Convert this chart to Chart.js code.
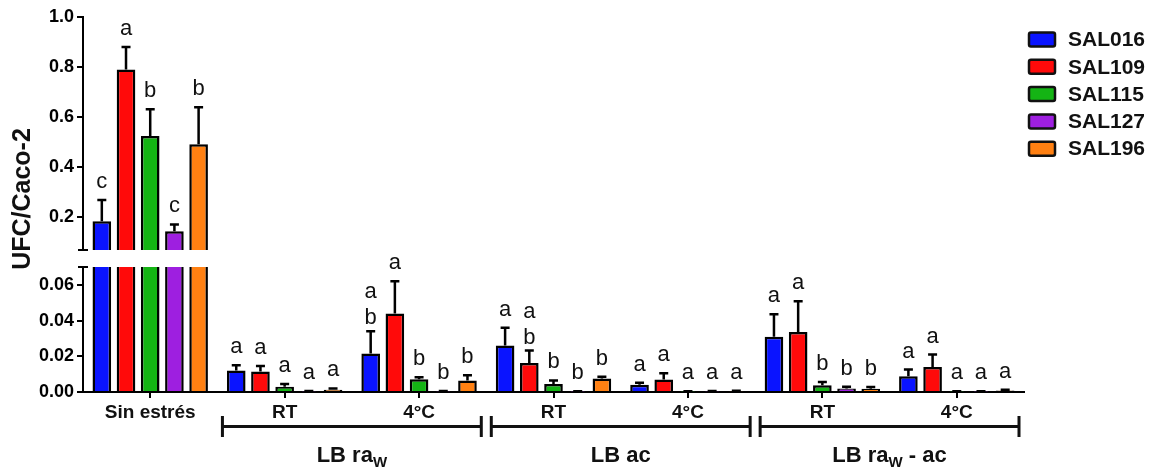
<!DOCTYPE html>
<html>
<head>
<meta charset="utf-8">
<script src="https://cdn.jsdelivr.net/npm/chart.js@4.4.1/dist/chart.umd.min.js"></script>
<style>
  html, body { margin: 0; padding: 0; background: #fff; }
  #wrap { position: relative; width: 1157px; height: 467px; }
  #wrap canvas { position: absolute; left: 0; top: 0; }
</style>
</head>
<body>
<div id="wrap">
  <canvas id="bottomChart" width="1157" height="467"></canvas>
  <canvas id="topChart" width="1157" height="467"></canvas>
</div>
<script>
// ===============================
// Data
// ===============================
const categories = ["Sin estrés", "RT", "4°C", "RT", "4°C", "RT", "4°C"];
const seriesNames = ["SAL016", "SAL109", "SAL115", "SAL127", "SAL196"];
const seriesColors = ["#0a14ff", "#ff0a0a", "#14b414", "#9e1fe0", "#ff8012"];

const sal016 = [0.185, 0.012, 0.0215, 0.026, 0.004, 0.031, 0.0088];
const sal109 = [0.79, 0.0115, 0.044, 0.0162, 0.007, 0.0336, 0.014];
const sal115 = [0.525, 0.003, 0.0072, 0.0045, 0.0002, 0.0038, 0.0002];
const sal127 = [0.145, 0.0003, 0.0003, 0.0002, 0.0003, 0.002, 0.0002];
const sal196 = [0.492, 0.0012, 0.0064, 0.0075, 0.0004, 0.0018, 0.0008];

const err016 = [0.085, 0.003, 0.0125, 0.010, 0.0012, 0.0125, 0.0038];
const err109 = [0.09, 0.003, 0.018, 0.007, 0.0035, 0.0172, 0.007];
const err115 = [0.107, 0.0015, 0.001, 0.002, 0.0002, 0.0018, 0.0002];
const err127 = [0.027, 0.0003, 0.0003, 0.0002, 0.0002, 0.001, 0.0002];
const err196 = [0.148, 0.0008, 0.003, 0.001, 0.0003, 0.001, 0.0005];

const letters016 = ["c", "a", "a\nb", "a", "a", "a", "a"];
const letters109 = ["a", "a", "a", "a\nb", "a", "a", "a"];
const letters115 = ["b", "a", "b", "b", "a", "b", "a"];
const letters127 = ["c", "a", "b", "b", "a", "b", "a"];
const letters196 = ["b", "a", "b", "b", "a", "b", "a"];

const topTicks = [0.2, 0.4, 0.6, 0.8, 1.0];
const bottomTicks = [0, 0.02, 0.04, 0.06];
const breakValue = 0.07;

// group brackets under the x axis: [first category, last category, text, subscript, tail]
const groups = [
  [1, 2, "LB ra", "W", ""],
  [3, 4, "LB ac", "", ""],
  [5, 6, "LB ra", "W", " - ac"],
];

const yTitle = "UFC/Caco-2";

const values = [sal016, sal109, sal115, sal127, sal196];
const errors = [err016, err109, err115, err127, err196];
const letters = [letters016, letters109, letters115, letters127, letters196];

const FONT = "'Liberation Sans', Arial, sans-serif";

// ===============================
// Helpers
// ===============================
function makeDatasets() {
  return seriesNames.map((name, i) => ({
    label: name,
    data: values[i],
    errors: errors[i],
    letters: letters[i],
    backgroundColor: seriesColors[i],
    borderColor: "#000",
    borderWidth: 2.5,
    borderSkipped: "start",
    categoryPercentage: 0.9,
    barPercentage: 0.77,
  }));
}

function yAxis(min, max, tickValues) {
  return {
    min: min,
    max: max,
    afterFit: (scale) => { scale.width = 83; },
    afterBuildTicks: (scale) => {
      scale.ticks = tickValues.map((v) => ({ value: v }));
    },
    border: { color: "#000", width: 2 },
    grid: { drawOnChartArea: false, color: "#000", lineWidth: 2, tickLength: 6 },
    ticks: {
      color: "#000",
      padding: 3,
      font: { family: FONT, size: 18, weight: "bold" },
      callback: (v) => (max > 0.5 ? v.toFixed(1) : v.toFixed(2)),
    },
  };
}

// ===============================
// Error bars + significance letters + break caps
// ===============================
const errorBarPlugin = {
  id: "errorBars",
  afterDatasetsDraw(chart) {
    const ctx = chart.ctx;
    const area = chart.chartArea;
    const yScale = chart.scales.y;
    ctx.save();
    chart.data.datasets.forEach((ds, di) => {
      const meta = chart.getDatasetMeta(di);
      meta.data.forEach((bar, i) => {
        const top = ds.data[i] + ds.errors[i];
        const yBar = bar.y;
        const yErr = yScale.getPixelForValue(top);

        // whisker, clipped to this segment
        ctx.save();
        ctx.beginPath();
        ctx.rect(area.left, area.top, area.right - area.left, area.bottom - area.top);
        ctx.clip();
        ctx.strokeStyle = "#000";
        ctx.lineWidth = 2.5;
        ctx.beginPath();
        ctx.moveTo(bar.x, yBar);
        ctx.lineTo(bar.x, yErr);
        ctx.moveTo(bar.x - 4.5, yErr);
        ctx.lineTo(bar.x + 4.5, yErr);
        ctx.stroke();
        ctx.restore();

        // letters only in the segment that holds the whisker end
        if (top < yScale.min || top > yScale.max) return;
        const lines = ds.letters[i].split("\n");
        const gap = lines.length > 1 ? 7 : 12;
        ctx.fillStyle = "#111";
        ctx.font = "22px " + FONT;
        ctx.textAlign = "center";
        ctx.textBaseline = "alphabetic";
        for (let k = 0; k < lines.length; k++) {
          const y = yErr - gap - (lines.length - 1 - k) * 26;
          ctx.fillText(lines[k], bar.x, y);
        }
      });
    });

    // short cap across the axis where the segment is broken
    const capY = yScale.getPixelForValue(breakValue);
    ctx.strokeStyle = "#000";
    ctx.lineWidth = 2;
    ctx.beginPath();
    ctx.moveTo(area.left - 5, capY);
    ctx.lineTo(area.left + 5, capY);
    ctx.stroke();
    ctx.restore();
  },
};

// ===============================
// Legend + y title (top chart)
// ===============================
const legendPlugin = {
  id: "sideLegend",
  afterDraw(chart) {
    const ctx = chart.ctx;
    ctx.save();
    chart.data.datasets.forEach((ds, i) => {
      const cy = 39.5 + i * 27.3;
      ctx.fillStyle = ds.backgroundColor;
      ctx.strokeStyle = "#111";
      ctx.lineWidth = 2.5;
      ctx.beginPath();
      ctx.roundRect(1029, cy - 7, 26, 14, 2);
      ctx.fill();
      ctx.stroke();
      ctx.fillStyle = "#111";
      ctx.font = "bold 21px " + FONT;
      ctx.textAlign = "left";
      ctx.textBaseline = "middle";
      ctx.fillText(ds.label, 1068, cy + 1);
    });

    ctx.translate(23, 199);
    ctx.rotate(-Math.PI / 2);
    ctx.font = "bold 25px " + FONT;
    ctx.textAlign = "center";
    ctx.textBaseline = "middle";
    ctx.fillText(yTitle, 0, 0);
    ctx.restore();
  },
};

// ===============================
// Group brackets (bottom chart)
// ===============================
const bracketPlugin = {
  id: "groupBrackets",
  afterDraw(chart) {
    const ctx = chart.ctx;
    const x = chart.scales.x;
    const half = (x.getPixelForValue(1) - x.getPixelForValue(0)) / 2;
    ctx.save();
    ctx.strokeStyle = "#111";
    ctx.fillStyle = "#111";
    ctx.lineWidth = 3;
    groups.forEach(([a, b, main, sub, tail]) => {
      const x0 = x.getPixelForValue(a) - half + 5;
      const x1 = x.getPixelForValue(b) + half - 5;
      ctx.beginPath();
      ctx.moveTo(x0, 426.5);
      ctx.lineTo(x1, 426.5);
      ctx.moveTo(x0, 416);
      ctx.lineTo(x0, 437);
      ctx.moveTo(x1, 416);
      ctx.lineTo(x1, 437);
      ctx.stroke();

      const bigFont = "bold 22px " + FONT;
      const subFont = "bold 15px " + FONT;
      ctx.font = bigFont;
      const w1 = ctx.measureText(main).width;
      const w3 = ctx.measureText(tail).width;
      ctx.font = subFont;
      const w2 = ctx.measureText(sub).width;
      let cx = (x0 + x1) / 2 - (w1 + w2 + w3) / 2;
      ctx.textAlign = "left";
      ctx.textBaseline = "alphabetic";
      ctx.font = bigFont;
      ctx.fillText(main, cx, 462);
      cx += w1;
      ctx.font = subFont;
      ctx.fillText(sub, cx, 467);
      cx += w2;
      ctx.font = bigFont;
      ctx.fillText(tail, cx, 462);
    });
    ctx.restore();
  },
};

// ===============================
// Charts
// ===============================
Chart.defaults.font.family = FONT;

new Chart(document.getElementById("bottomChart"), {
  type: "bar",
  data: { labels: categories, datasets: makeDatasets() },
  options: {
    responsive: false,
    animation: false,
    layout: { padding: { top: 267, right: 133, bottom: 0, left: 0 } },
    plugins: { legend: { display: false }, tooltip: { enabled: false } },
    scales: {
      x: {
        afterFit: (scale) => { scale.height = 75; },
        border: { color: "#000", width: 2 },
        grid: { drawOnChartArea: false, offset: false, color: "#000", lineWidth: 2, tickLength: 6 },
        ticks: {
          color: "#111",
          padding: 3,
          maxRotation: 0,
          autoSkip: false,
          font: { family: FONT, size: 19, weight: "bold" },
        },
      },
      y: yAxis(0, breakValue, bottomTicks),
    },
  },
  plugins: [errorBarPlugin, bracketPlugin],
});

new Chart(document.getElementById("topChart"), {
  type: "bar",
  data: { labels: categories, datasets: makeDatasets() },
  options: {
    responsive: false,
    animation: false,
    layout: { padding: { top: 17, right: 133, bottom: 217, left: 0 } },
    plugins: { legend: { display: false }, tooltip: { enabled: false } },
    scales: {
      x: { display: false },
      y: yAxis(breakValue, 1.0, topTicks),
    },
  },
  plugins: [errorBarPlugin, legendPlugin],
});
</script>
</body>
</html>
